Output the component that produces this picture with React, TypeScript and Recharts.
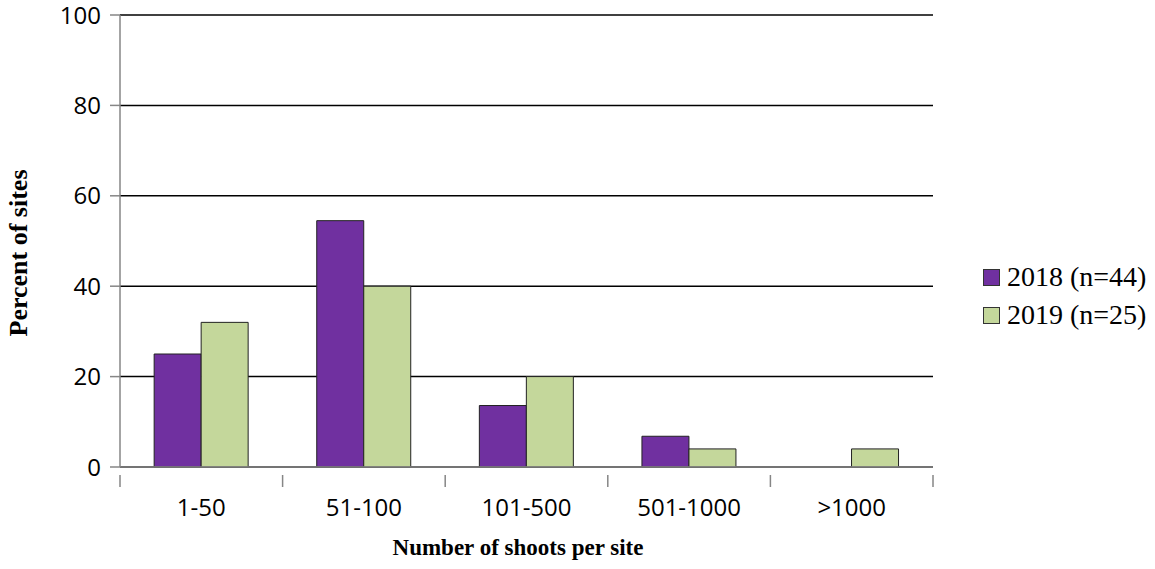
import { Bar, BarChart, CartesianGrid, XAxis, YAxis } from "recharts";

// Share of surveyed sites in each shoot-count class, per survey year
const CATEGORIES = ["1-50", "51-100", "101-500", "501-1000", ">1000"];
const SITES_2018 = [25, 54.5, 13.6, 6.8, 0];
const SITES_2019 = [32, 40, 20, 4, 4];
const Y_TICKS = [0, 20, 40, 60, 80, 100];

const SERIES = [
  { key: "y2018", name: "2018 (n=44)", color: "#7030A0" },
  { key: "y2019", name: "2019 (n=25)", color: "#C4D79B" },
];

const data = CATEGORIES.map((cat, i) => ({
  cat,
  y2018: SITES_2018[i],
  y2019: SITES_2019[i],
}));

const W = 1155;
const H = 569;
const PLOT_LEFT = 120;
const PLOT_RIGHT = 933;
const AXIS_GRAY = "#868686";
const TICK_FONT = "'Open Sans', sans-serif";
const TITLE_FONT = "'Liberation Serif', 'Times New Roman', serif";

const bandWidth = (PLOT_RIGHT - PLOT_LEFT) / CATEGORIES.length;

// category label at the centre, tick marks on the category boundaries
function CategoryTick(props: any) {
  const { x, y, payload, index } = props;
  const left = x - bandWidth / 2;
  return (
    <g>
      <line x1={left} x2={left} y1={y} y2={y + 12} stroke={AXIS_GRAY} strokeWidth={1.5} />
      {index === CATEGORIES.length - 1 && (
        <line
          x1={left + bandWidth}
          x2={left + bandWidth}
          y1={y}
          y2={y + 12}
          stroke={AXIS_GRAY}
          strokeWidth={1.5}
        />
      )}
      <text x={x} y={y + 41} textAnchor="middle" fontFamily={TICK_FONT} fontSize={24} fill="#000">
        {payload.value}
      </text>
    </g>
  );
}

function SideLegend() {
  return (
    <div
      style={{
        position: "absolute",
        left: 983,
        top: 258,
        fontFamily: TITLE_FONT,
        fontSize: 28,
        color: "#000",
      }}
    >
      {SERIES.map((s) => (
        <div key={s.key} style={{ display: "flex", alignItems: "center", height: 38 }}>
          <span
            style={{
              width: 15,
              height: 15,
              background: s.color,
              border: "1px solid #333",
              marginRight: 7,
              display: "inline-block",
            }}
          />
          <span>{s.name}</span>
        </div>
      ))}
    </div>
  );
}

export default function App() {
  return (
    <div style={{ position: "absolute", left: 0, top: 0, width: W, height: H, background: "#fff" }}>
      <BarChart
        width={W}
        height={H}
        data={data}
        margin={{ top: 15, right: W - PLOT_RIGHT, bottom: 0, left: 0 }}
        barCategoryGap="21%"
        barGap={0}
      >
        <CartesianGrid vertical={false} stroke="#000" strokeWidth={1.5} />
        <XAxis
          dataKey="cat"
          height={102}
          axisLine={{ stroke: AXIS_GRAY, strokeWidth: 1.5 }}
          tickLine={false}
          interval={0}
          tick={<CategoryTick />}
          label={() => (
            <text
              x={518}
              y={555}
              textAnchor="middle"
              fontFamily={TITLE_FONT}
              fontWeight="bold"
              fontSize={23}
              fill="#000"
            >
              Number of shoots per site
            </text>
          )}
        />
        <YAxis
          width={PLOT_LEFT}
          domain={[0, 100]}
          ticks={Y_TICKS}
          interval={0}
          axisLine={{ stroke: AXIS_GRAY, strokeWidth: 1.5 }}
          tickLine={{ stroke: AXIS_GRAY, strokeWidth: 1.5 }}
          tickSize={10}
          tickMargin={9}
          tick={{ fontFamily: TICK_FONT, fontSize: 24, fill: "#000" }}
          label={() => (
            <text
              x={27}
              y={253}
              transform="rotate(-90, 27, 253)"
              textAnchor="middle"
              fontFamily={TITLE_FONT}
              fontWeight="bold"
              fontSize={26}
              fill="#000"
            >
              Percent of sites
            </text>
          )}
        />
        {SERIES.map((s) => (
          <Bar
            key={s.key}
            dataKey={s.key}
            name={s.name}
            fill={s.color}
            stroke="#222"
            strokeWidth={1}
            isAnimationActive={false}
          />
        ))}
      </BarChart>
      <SideLegend />
    </div>
  );
}
